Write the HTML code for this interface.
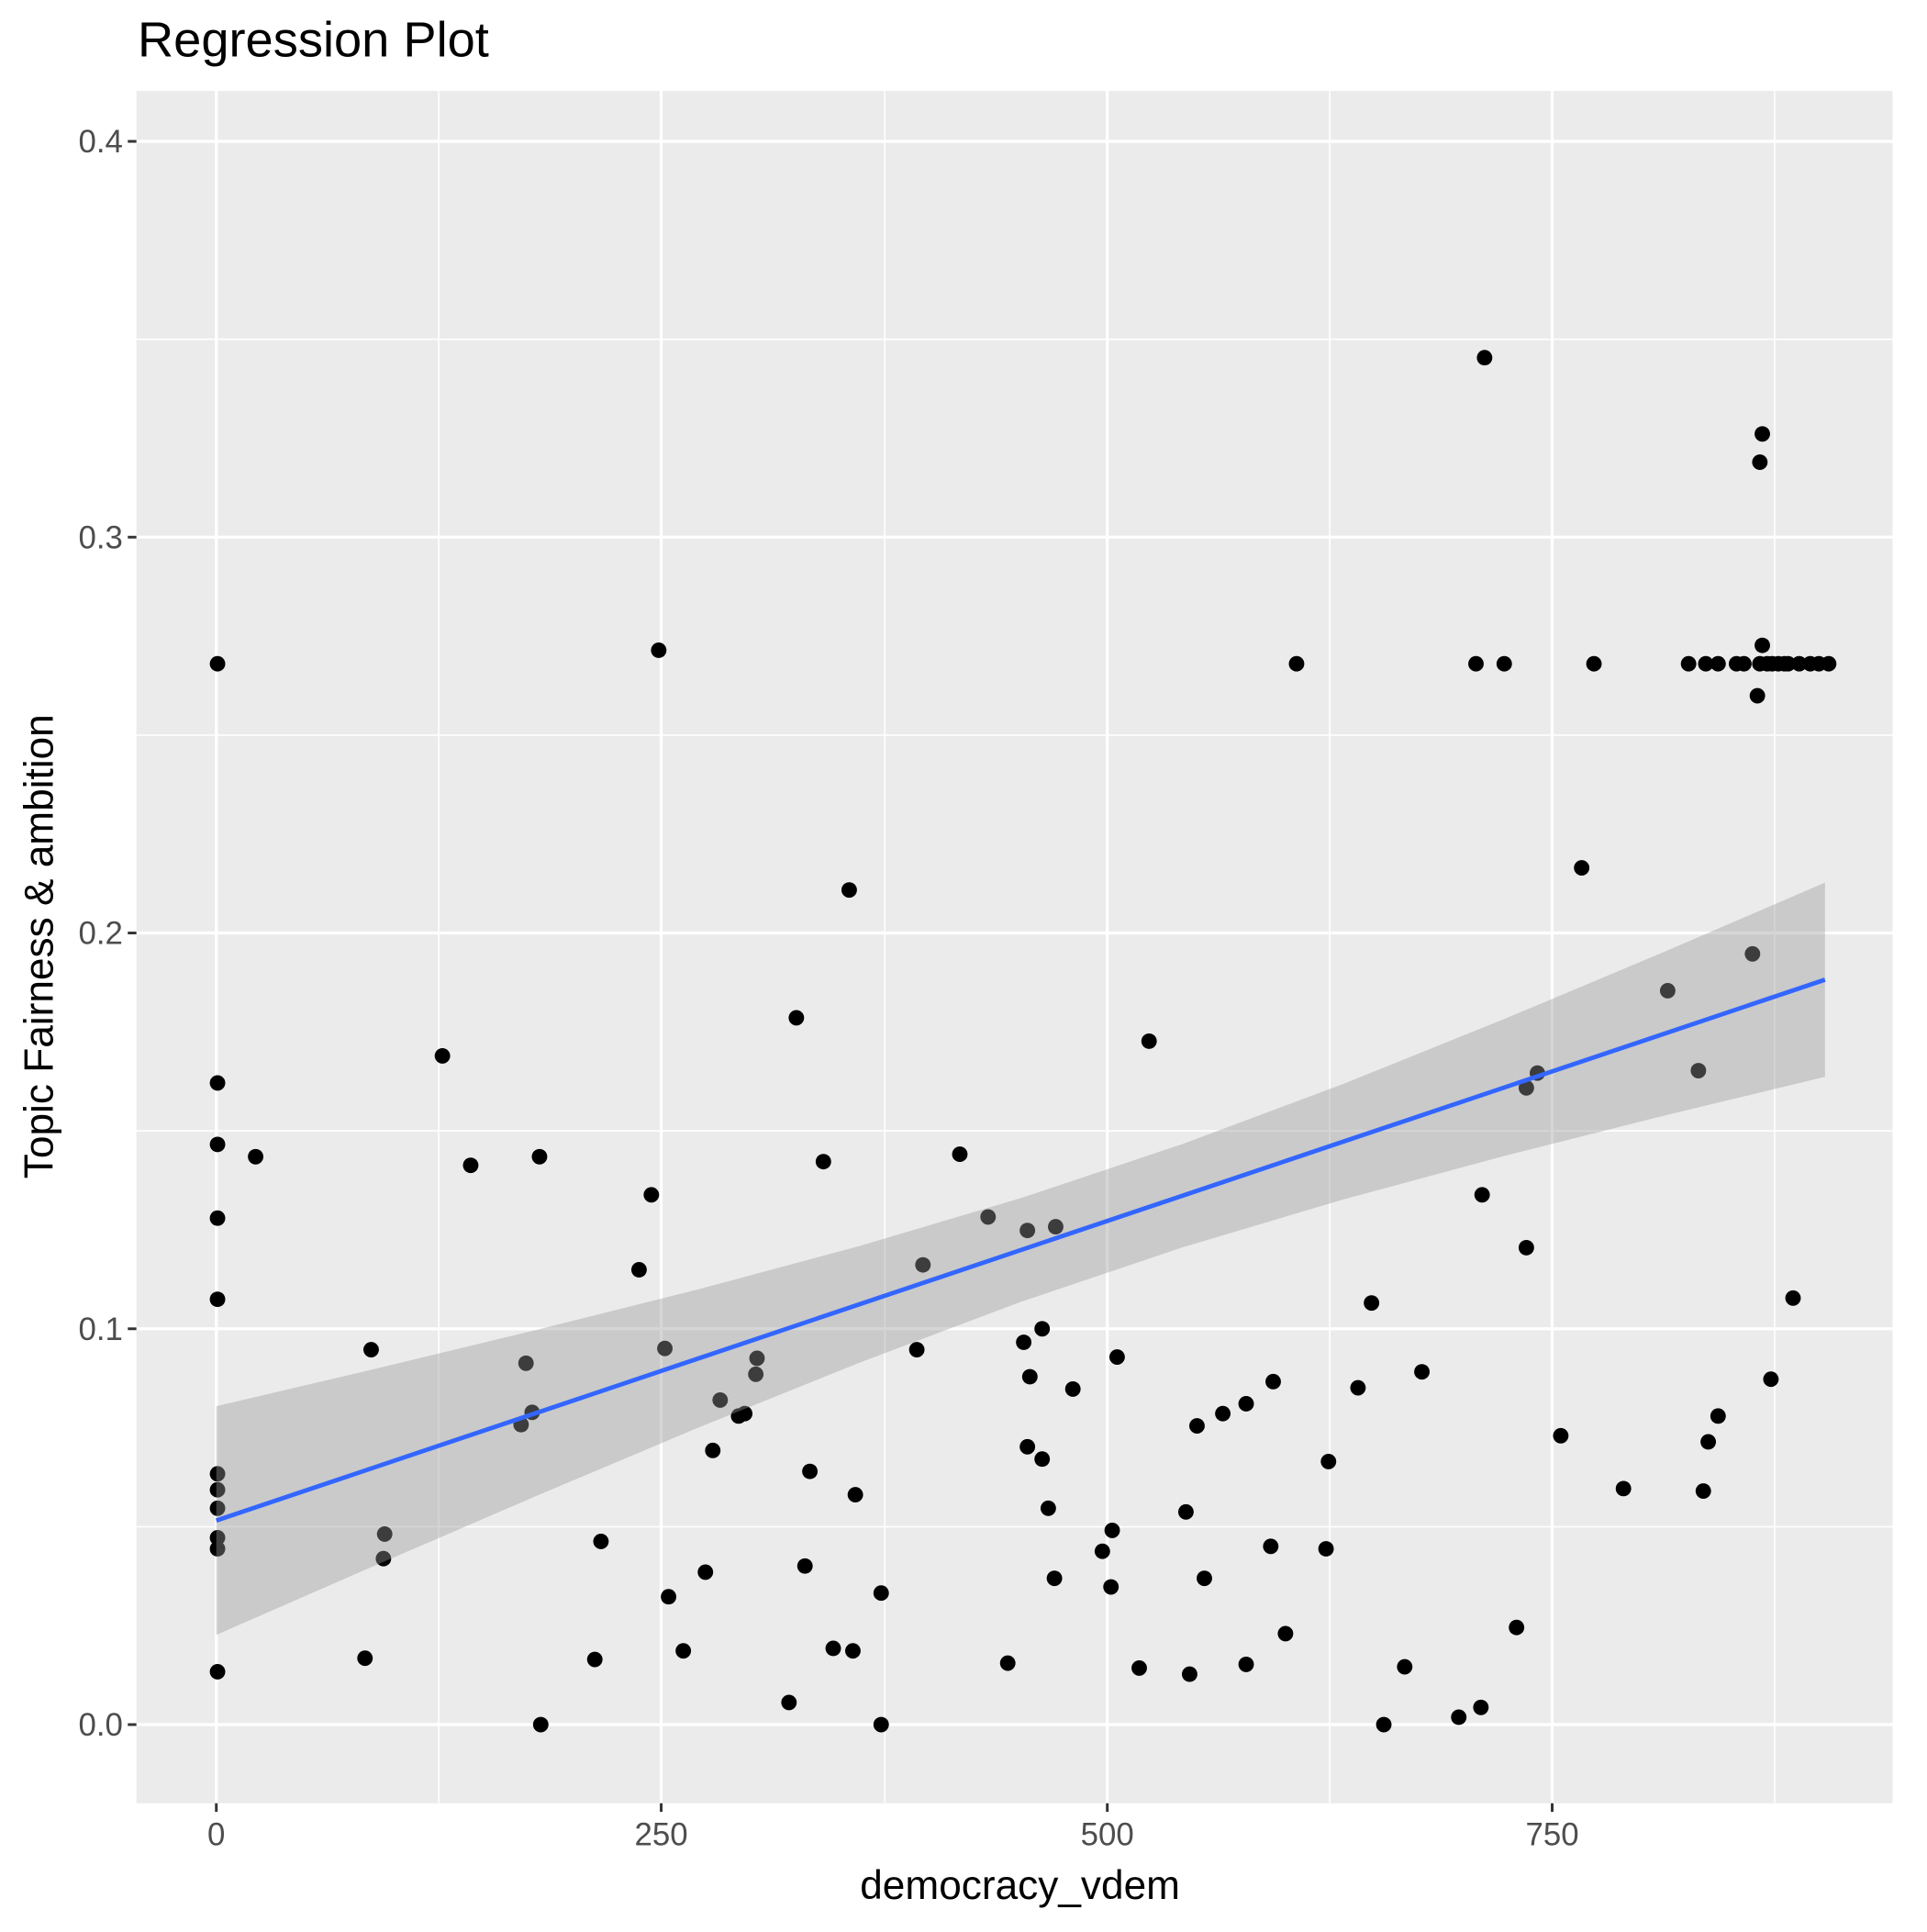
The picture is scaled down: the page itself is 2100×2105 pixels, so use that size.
<!DOCTYPE html>
<html><head><style>html,body{margin:0;padding:0;background:#fff}</style></head>
<body>
<svg width="2100" height="2100" viewBox="0 0 1568 1568" xmlns="http://www.w3.org/2000/svg" font-family="Liberation Sans, sans-serif">
<rect width="1568" height="1568" fill="#fff"/>
<rect x="111" y="74" width="1429" height="1393" fill="#EBEBEB"/>
<g stroke="#fff" stroke-width="1.2">
<line x1="357" y1="74" x2="357" y2="1467"/><line x1="720" y1="74" x2="720" y2="1467"/><line x1="1082" y1="74" x2="1082" y2="1467"/><line x1="1444" y1="74" x2="1444" y2="1467"/>
<line x1="111" y1="1242" x2="1540" y2="1242"/><line x1="111" y1="920" x2="1540" y2="920"/><line x1="111" y1="598" x2="1540" y2="598"/><line x1="111" y1="276" x2="1540" y2="276"/>
</g>
<g stroke="#fff" stroke-width="2.4">
<line x1="176" y1="74" x2="176" y2="1467"/><line x1="538" y1="74" x2="538" y2="1467"/><line x1="901" y1="74" x2="901" y2="1467"/><line x1="1263" y1="74" x2="1263" y2="1467"/>
<line x1="111" y1="1403" x2="1540" y2="1403"/><line x1="111" y1="1081" x2="1540" y2="1081"/><line x1="111" y1="759" x2="1540" y2="759"/><line x1="111" y1="437" x2="1540" y2="437"/><line x1="111" y1="115" x2="1540" y2="115"/>
</g>
<g fill="#000">
<circle cx="177" cy="540" r="6.3"/><circle cx="177" cy="881" r="6.3"/><circle cx="177" cy="931" r="6.3"/><circle cx="177" cy="991" r="6.3"/><circle cx="177" cy="1057" r="6.3"/><circle cx="177" cy="1199" r="6.3"/><circle cx="177" cy="1212" r="6.3"/><circle cx="177" cy="1227" r="6.3"/><circle cx="177" cy="1251" r="6.3"/><circle cx="177" cy="1260" r="6.3"/><circle cx="177" cy="1360" r="6.3"/>
<circle cx="208" cy="941" r="6.3"/><circle cx="302" cy="1098" r="6.3"/><circle cx="297" cy="1349" r="6.3"/><circle cx="313" cy="1248" r="6.3"/><circle cx="312" cy="1268" r="6.3"/><circle cx="360" cy="859" r="6.3"/><circle cx="383" cy="948" r="6.3"/><circle cx="428" cy="1109" r="6.3"/><circle cx="424" cy="1159" r="6.3"/><circle cx="433" cy="1149" r="6.3"/><circle cx="439" cy="941" r="6.3"/><circle cx="440" cy="1403" r="6.3"/><circle cx="484" cy="1350" r="6.3"/><circle cx="489" cy="1254" r="6.3"/><circle cx="520" cy="1033" r="6.3"/><circle cx="530" cy="972" r="6.3"/><circle cx="536" cy="529" r="6.3"/><circle cx="541" cy="1097" r="6.3"/><circle cx="544" cy="1299" r="6.3"/><circle cx="556" cy="1343" r="6.3"/><circle cx="574" cy="1279" r="6.3"/><circle cx="580" cy="1180" r="6.3"/><circle cx="586" cy="1139" r="6.3"/><circle cx="601" cy="1152" r="6.3"/><circle cx="606" cy="1150" r="6.3"/><circle cx="615" cy="1118" r="6.3"/><circle cx="616" cy="1105" r="6.3"/><circle cx="642" cy="1385" r="6.3"/><circle cx="648" cy="828" r="6.3"/><circle cx="655" cy="1274" r="6.3"/><circle cx="659" cy="1197" r="6.3"/><circle cx="670" cy="945" r="6.3"/><circle cx="678" cy="1341" r="6.3"/><circle cx="691" cy="724" r="6.3"/><circle cx="694" cy="1343" r="6.3"/><circle cx="696" cy="1216" r="6.3"/><circle cx="717" cy="1403" r="6.3"/><circle cx="717" cy="1296" r="6.3"/><circle cx="746" cy="1098" r="6.3"/><circle cx="751" cy="1029" r="6.3"/><circle cx="781" cy="939" r="6.3"/><circle cx="804" cy="990" r="6.3"/><circle cx="820" cy="1353" r="6.3"/><circle cx="833" cy="1092" r="6.3"/><circle cx="836" cy="1001" r="6.3"/><circle cx="836" cy="1177" r="6.3"/><circle cx="838" cy="1120" r="6.3"/><circle cx="848" cy="1187" r="6.3"/><circle cx="848" cy="1081" r="6.3"/><circle cx="853" cy="1227" r="6.3"/><circle cx="858" cy="1284" r="6.3"/><circle cx="859" cy="998" r="6.3"/><circle cx="873" cy="1130" r="6.3"/><circle cx="897" cy="1262" r="6.3"/><circle cx="904" cy="1291" r="6.3"/><circle cx="905" cy="1245" r="6.3"/><circle cx="909" cy="1104" r="6.3"/><circle cx="927" cy="1357" r="6.3"/><circle cx="935" cy="847" r="6.3"/><circle cx="965" cy="1230" r="6.3"/><circle cx="968" cy="1362" r="6.3"/><circle cx="974" cy="1160" r="6.3"/><circle cx="980" cy="1284" r="6.3"/><circle cx="995" cy="1150" r="6.3"/><circle cx="1014" cy="1142" r="6.3"/><circle cx="1014" cy="1354" r="6.3"/><circle cx="1034" cy="1258" r="6.3"/><circle cx="1036" cy="1124" r="6.3"/><circle cx="1046" cy="1329" r="6.3"/><circle cx="1055" cy="540" r="6.3"/><circle cx="1079" cy="1260" r="6.3"/><circle cx="1081" cy="1189" r="6.3"/><circle cx="1105" cy="1129" r="6.3"/><circle cx="1116" cy="1060" r="6.3"/><circle cx="1126" cy="1403" r="6.3"/><circle cx="1143" cy="1356" r="6.3"/><circle cx="1157" cy="1116" r="6.3"/><circle cx="1187" cy="1397" r="6.3"/><circle cx="1201" cy="540" r="6.3"/><circle cx="1206" cy="972" r="6.3"/><circle cx="1205" cy="1389" r="6.3"/><circle cx="1208" cy="291" r="6.3"/><circle cx="1224" cy="540" r="6.3"/><circle cx="1234" cy="1324" r="6.3"/><circle cx="1242" cy="885" r="6.3"/><circle cx="1242" cy="1015" r="6.3"/><circle cx="1251" cy="873" r="6.3"/><circle cx="1270" cy="1168" r="6.3"/><circle cx="1287" cy="706" r="6.3"/><circle cx="1297" cy="540" r="6.3"/><circle cx="1321" cy="1211" r="6.3"/><circle cx="1357" cy="806" r="6.3"/><circle cx="1374" cy="540" r="6.3"/><circle cx="1382" cy="871" r="6.3"/><circle cx="1386" cy="1213" r="6.3"/><circle cx="1390" cy="1173" r="6.3"/><circle cx="1388" cy="540" r="6.3"/><circle cx="1398" cy="540" r="6.3"/><circle cx="1398" cy="1152" r="6.3"/><circle cx="1413" cy="540" r="6.3"/><circle cx="1419" cy="540" r="6.3"/><circle cx="1426" cy="776" r="6.3"/><circle cx="1430" cy="566" r="6.3"/><circle cx="1432" cy="540" r="6.3"/><circle cx="1432" cy="376" r="6.3"/><circle cx="1438" cy="540" r="6.3"/><circle cx="1442" cy="540" r="6.3"/><circle cx="1447" cy="540" r="6.3"/><circle cx="1452" cy="540" r="6.3"/><circle cx="1455" cy="540" r="6.3"/><circle cx="1434" cy="525" r="6.3"/><circle cx="1434" cy="353" r="6.3"/><circle cx="1459" cy="1056" r="6.3"/><circle cx="1441" cy="1122" r="6.3"/><circle cx="1464" cy="540" r="6.3"/><circle cx="1473" cy="540" r="6.3"/><circle cx="1480" cy="540" r="6.3"/><circle cx="1488" cy="540" r="6.3"/>
</g>
<path fill="#999" fill-opacity="0.4" d="M176,1144 L307,1113.2 L438,1081.5 L569,1048.7 L700,1013.5 L831,974.6 L962,930.8 L1093,881.8 L1224,829 L1355,774 L1485,718 L1485,876 L1355,907.4 L1224,940.4 L1093,975.8 L962,1014.8 L831,1059 L700,1108.3 L569,1161.1 L438,1216.3 L307,1272.8 L176,1330 Z"/>
<line x1="176" y1="1237" x2="1485" y2="797" stroke="#3366FF" stroke-width="3.6"/>
<g stroke="#333" stroke-width="2.2">
<line x1="176" y1="1467" x2="176" y2="1474"/><line x1="538" y1="1467" x2="538" y2="1474"/><line x1="901" y1="1467" x2="901" y2="1474"/><line x1="1263" y1="1467" x2="1263" y2="1474"/>
<line x1="104" y1="1403" x2="111" y2="1403"/><line x1="104" y1="1081" x2="111" y2="1081"/><line x1="104" y1="759" x2="111" y2="759"/><line x1="104" y1="437" x2="111" y2="437"/><line x1="104" y1="115" x2="111" y2="115"/>
</g>
<g fill="#4D4D4D" font-size="26" text-anchor="middle">
<text x="176" y="1501">0</text><text x="538" y="1501">250</text><text x="901" y="1501">500</text><text x="1263" y="1501">750</text>
</g>
<g fill="#4D4D4D" font-size="26" text-anchor="end">
<text x="100" y="1412">0.0</text><text x="100" y="1090">0.1</text><text x="100" y="768">0.2</text><text x="100" y="446">0.3</text><text x="100" y="124">0.4</text>
</g>
<text x="830" y="1545" font-size="33" text-anchor="middle" fill="#000">democracy_vdem</text>
<text transform="translate(43,770) rotate(-90)" font-size="33" text-anchor="middle" fill="#000">Topic Fairness &amp; ambition</text>
<text x="112" y="46" font-size="40.5" fill="#000">Regression Plot</text>
</svg>
</body></html>
